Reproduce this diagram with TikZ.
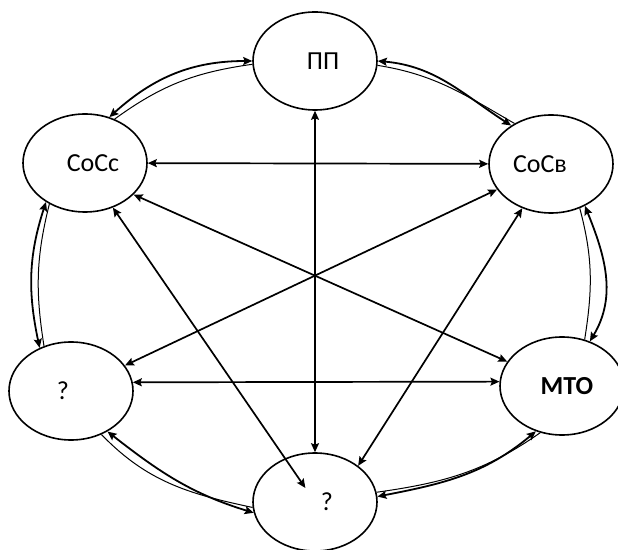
\documentclass[tikz,border=0pt]{standalone}
\usepackage{fontspec}
\setmainfont{Carlito}
\usetikzlibrary{arrows.meta,shapes.geometric}

\begin{document}
\begin{tikzpicture}[x=1pt,y=1pt,
  uzel/.style={ellipse,draw,line width=1.6pt,minimum width=124pt,minimum height=98pt,
    inner sep=0pt,font=\fontsize{26}{30}\selectfont},
  nak/.tip={Stealth[length=9pt,width=8pt,inset=1.5pt]},
  strelka/.style={line width=1.7pt,nak-nak},
  duga/.style={line width=1.8pt,nak-nak},
  tonkaya/.style={line width=1pt}]

\useasboundingbox (0,0) rectangle (618,549);

\node[uzel] (pp) at (315,488) {\hspace*{16pt}ПП};
\node[uzel] (cocc) at (85,386) {\hspace*{16pt}СоСс};% узлы
\node[uzel] (cocv) at (551,385) {СоСв\hspace*{22pt}};
\node[uzel] (lq) at (71,158) {?\hspace*{16pt}};
\node[uzel] (mto) at (562,163) {\hspace*{10pt}\textbf{МТО}};
\node[uzel] (bq) at (315,47) {\hspace*{24pt}?};

\draw[strelka] (cocc) -- (cocv);
\draw[strelka] (pp) -- (bq);
\draw[strelka] (cocc.-33) -- (mto.156);% прямые стрелки
\draw[strelka] (cocv) -- (lq);
\draw[strelka] (lq.8) -- (mto.176);
\draw[strelka,shorten >=17pt] (cocc.-58) -- (bq.center);
\draw[strelka] (cocv.-123) -- (bq.40);

\draw[duga] (cocc.62) to[out=42,in=180] (pp.180);
\draw[tonkaya] (cocc.56) to[out=36,in=188] (pp.183);
\draw[duga] (pp.0) to[out=-5,in=147] (cocv.136);
\draw[tonkaya] (pp.-4) to[out=-9,in=150] (cocv.132);
\draw[duga] (cocc.225) to[out=-108,in=102] (lq.126);% дуги по кругу
\draw[tonkaya] (cocc.229) to[out=-104,in=99] (lq.121);
\draw[duga] (cocv.-51) to[out=-68,in=59] (mto.58);
\draw[tonkaya] (cocv.-57) to[out=-75,in=81] (mto.64);
\draw[duga] (lq.-48) to[out=-38,in=163] (bq.190);
\draw[tonkaya] (lq.-55) to[out=-46,in=168] (bq.185);
\draw[duga] (mto.-120) to[out=220,in=11] (bq.5);
\draw[tonkaya] (mto.-115) to[out=215,in=8] (bq.9);

\end{tikzpicture}
\end{document}
